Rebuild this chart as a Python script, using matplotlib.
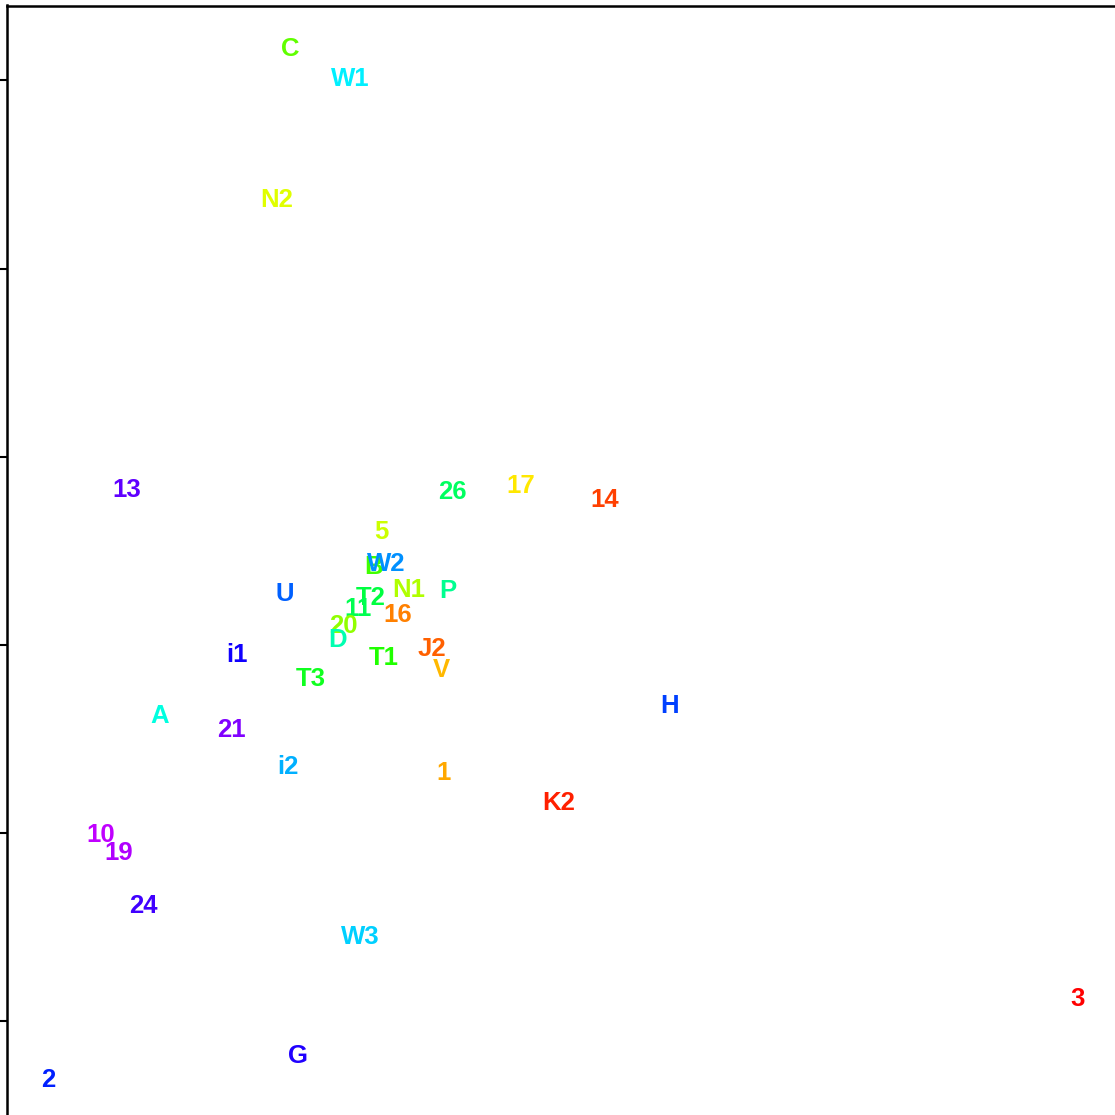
import matplotlib.pyplot as plt

# point labels, coordinates and colours
labels = ["C", "W1", "N2", "13", "26", "17", "14", "5", "B", "W2", "U", "N1",
          "P", "T2", "11", "16", "20", "D", "J2", "i1", "T1", "V", "T3", "H",
          "A", "21", "i2", "1", "K2", "10", "19", "24", "W3", "3", "G", "2"]
x = [-1.435, -1.116, -1.504, -2.301, -0.574, -0.207, 0.239, -0.951, -0.988,
     -0.925, -1.461, -0.802, -0.595, -1.004, -1.073, -0.861, -1.153, -1.180,
     -0.680, -1.716, -0.935, -0.632, -1.323, 0.584, -2.125, -1.748, -1.445,
     -0.616, -0.005, -2.439, -2.343, -2.216, -1.063, 2.752, -1.392, -2.721]
y = [3.167, 3.007, 2.364, 0.823, 0.813, 0.844, 0.770, 0.600, 0.414, 0.430,
     0.271, 0.292, 0.287, 0.249, 0.191, 0.159, 0.101, 0.026, -0.022, -0.054,
     -0.069, -0.133, -0.181, -0.324, -0.378, -0.452, -0.649, -0.681, -0.840,
     -1.010, -1.106, -1.387, -1.552, -1.881, -2.184, -2.312]
colors = ["#60FF00", "#00F0FF", "#E0FF00", "#6000FF", "#00FF60", "#FFE800",
          "#FF4000", "#CCFF00", "#40FF00", "#0090FF", "#0060FF", "#B0FF00",
          "#00FF90", "#00FF40", "#00FF50", "#FF8000", "#90FF00", "#00FFB0",
          "#FF6000", "#1000FF", "#20FF00", "#FFB800", "#10FF20", "#0040FF",
          "#00FFE0", "#8000FF", "#00B0FF", "#FFA800", "#FF2000", "#C000FF",
          "#B000FF", "#4000FF", "#00D0FF", "#FF0000", "#2000FF", "#0020FF"]

fig = plt.figure(figsize=(11.15, 11.15), dpi=100)
ax = fig.add_axes([7 / 1115, 0, 1 - 7 / 1115, 1 - 5.5 / 1115])

for lab, xi, yi, c in zip(labels, x, y, colors):
    ax.text(xi, yi, lab, color=c, fontsize=18.5, fontweight="bold",
            family="Liberation Sans", ha="center", va="center")

ax.set_xlim(-2.938, 2.949)
ax.set_ylim(-2.497, 3.398)
ax.set_yticks([-2, -1, 0, 1, 2, 3])
ax.set_xticks([])
ax.tick_params(axis="y", direction="out", length=7, width=1.5, labelleft=False)
ax.spines["right"].set_visible(False)
ax.spines["bottom"].set_visible(False)
for s in ["left", "top"]:
    ax.spines[s].set_linewidth(1.8)

fig.savefig("out.png", dpi=100)
